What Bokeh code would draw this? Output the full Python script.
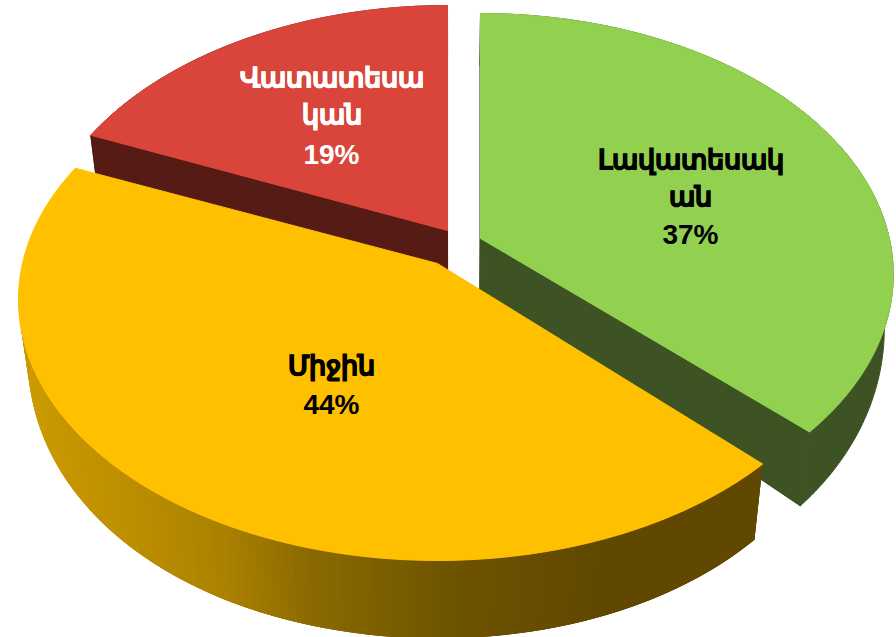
import numpy as np
from bokeh.plotting import figure
from bokeh.embed import file_html
from bokeh.resources import INLINE
from bokeh.core.properties import value
from bokeh.models import Range1d

labels = ["Լավատեսակ\nան", "Միջին", "Վատատեսա\nկան"]
values = [37, 44, 19]
top_colors = ["#92D050", "#FFC000", "#D9453A"]
side_colors = ["#3D5323", "#A67C00", "#561B15"]
text_colors = ["#000000", "#000000", "#FFFFFF"]

# how each exploded slice sits in the view
apex = [(480, 238), (437, 263), (447, 230)]
slice_scale = [0.985, 1.0, 0.985]
angle_shift = [(0, 0), (1.8, 1.5), (1.5, 0)]
label_pos = [(690, 178), (331, 365), (331, 96)]
pct_pos = [(690, 234), (331, 404), (331, 154)]

shade_x = [18, 130, 220, 300, 450, 600, 760]
shade_r = [205, 188, 170, 140, 110, 97, 97]
shade_g = [155, 142, 129, 107, 84, 72, 72]

W, H = 896, 637
p = figure(width=W, height=H, output_backend="svg", toolbar_location=None,
           x_range=Range1d(0, W), y_range=Range1d(H, 0), min_border=0,
           outline_line_color=None, background_fill_color="white")
p.axis.visible = False
p.grid.visible = False

K, RQ, R = 0.138, 256.0, 415.0


def rim(a0, a1, ax, ay, s, n=160):
    t = np.radians(np.linspace(a0, a1, n))
    u, v = np.sin(t), np.cos(t)
    w = 1 + K * v
    return ax + s * R * u / w, ay - RQ * v / w


def drop(x, y):
    d = np.where(y < 238, 52.0, 78 - 26 * ((560 - y) / 322.0) ** 2)
    return x + (450 - x) * 0.027 * d / 77, y + d


total = sum(values)
starts = np.cumsum([0] + values[:-1]) * 360.0 / total
ends = np.cumsum(values) * 360.0 / total


def shade(xv):
    r = int(np.interp(xv, shade_x, shade_r))
    g = int(np.interp(xv, shade_x, shade_g))
    return "#%02x%02x00" % (r, g)


for i in [2, 0, 1]:
    ax, ay = apex[i]
    x, y = rim(starts[i] + angle_shift[i][0], ends[i] + angle_shift[i][1], ax, ay, slice_scale[i])
    bx, by = drop(x, y)
    if i == 1:
        # outer wall in overlapping segments, painted with a horizontal shade
        left = np.argmin(x)
        xs, ys, cols = [], [], []
        for j in range(left, 0, -1):
            e = max(j - 3, 0)
            xs.append([x[j], x[e], bx[e], bx[j]])
            ys.append([y[j], y[e], by[e], by[j]])
            cols.append(shade(x[j]))
        p.patches(xs, ys, fill_color=cols, line_color=None)
    else:
        p.patch(np.r_[x, bx[::-1]], np.r_[y, by[::-1]], fill_color=side_colors[i],
                line_color=side_colors[i])
        for k in (0, -1):
            a, b = drop(np.array([ax]), np.array([ay]))
            p.patch([ax, x[k], bx[k], a[0]], [ay, y[k], by[k], b[0]], fill_color=side_colors[i],
                    line_color=side_colors[i])
    p.patch(np.r_[ax, x], np.r_[ay, y], fill_color=top_colors[i], line_color=top_colors[i])

for i in range(3):
    p.text([label_pos[i][0]], [label_pos[i][1]], text=[labels[i]], text_color=text_colors[i],
           text_font=value("Liberation Sans"), text_font_style="bold", text_font_size="27px",
           text_align="center", text_baseline="middle", text_line_height=1.245,
           text_outline_color=text_colors[i])
    p.text([pct_pos[i][0]], [pct_pos[i][1]], text=["%d%%" % values[i]], text_color=text_colors[i],
           text_font=value("Liberation Sans"), text_font_style="bold", text_font_size="28px",
           text_align="center", text_baseline="middle")

open("out.html", "w").write(file_html(p, INLINE))
